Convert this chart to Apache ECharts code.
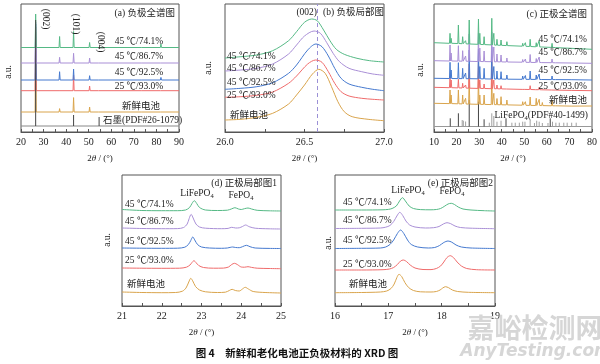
<!DOCTYPE html>
<html><head><meta charset="utf-8">
<script src="https://cdn.jsdelivr.net/npm/echarts/dist/echarts.min.js"></script>
<style>html,body{margin:0;padding:0;background:#fff}#c{width:600px;height:364px}</style>
</head><body><div id="c"></div>
<script>
// ---------- DATA ----------
const seriesLabels = ['45 ℃/74.1%', '45 ℃/86.7%', '45 ℃/92.5%', '25 ℃/93.0%', '新鲜电池'];

// (a) anode full pattern: peak positions and apex values for each curve
const aPeakPos = [26.5, 37.1, 43.3, 50.4, 54.6, 73.5, 82.0];
const aBase = [84.5, 69, 52, 41.3, 20];
const aTopGreen  = [118, 95.5, 100.5, 89.5, 86, 85.5, 88];
const aTopPurple = [110, 74.7, 78.7, 74, 70.5, 69.5, 71];
const aTopBlue   = [108, 60.3, 63, 56.3, 53.5, 53.5, 54.6];
const aTopRed    = [105, 43, 57, 46, 42.3, 41.8, 42.3];
const aTopOrange = [100, 23.4, 34.4, 25, 21.5, 20.7, 21.5];
const aRefPos = [26.5, 43.3, 54.6];
const aRefTop = [112, 17, 15];
const aRefBase = 6;

// (b) anode (002) detail
const bGreen = [[26.0,74],[26.1,75.3],[26.2,77],[26.3,81.3],[26.4,91.3],[26.45,100.3],[26.5,109.7],[26.545,113],[26.58,111.3],[26.62,102],[26.66,91.3],[26.7,82.7],[26.75,77.7],[26.83,73.7],[26.91,71.3],[27.0,70]];
const bPurple = [[26.0,61],[26.1,62],[26.2,63.7],[26.3,68],[26.4,78],[26.45,87],[26.5,96],[26.56,101],[26.6,98.7],[26.64,89.3],[26.68,78.7],[26.72,70.3],[26.78,63.7],[26.86,60.3],[26.93,58],[27.0,56.7]];
const bBlue = [[26.0,42.7],[26.1,43.7],[26.2,45.3],[26.3,49.3],[26.4,58.7],[26.45,67],[26.52,82],[26.572,88],[26.61,85.3],[26.65,76],[26.69,63.7],[26.73,53.7],[26.78,48],[26.86,44.7],[26.93,42.7],[27.0,41.3]];
const bRed = [[26.0,34.7],[26.1,35.3],[26.2,36.7],[26.3,40],[26.4,48.7],[26.45,56],[26.52,68],[26.57,72],[26.61,69.7],[26.65,60.3],[26.69,48.7],[26.73,40.3],[26.78,36],[26.86,33.7],[26.93,32.7],[27.0,32]];
const bOrange = [[26.0,12],[26.1,12.7],[26.2,14.7],[26.3,18.7],[26.4,28],[26.45,37],[26.5,47],[26.55,58],[26.59,62.7],[26.63,58.7],[26.67,45.3],[26.71,30.3],[26.75,20.3],[26.8,15.3],[26.9,12.7],[27.0,11.3]];
const bDashX = 26.58;

// (c) cathode full pattern
const cPeakPos = [17.1,17.6,20.8,22.7,24.0,25.6,29.7,30.3,32.2,35.6,36.5,37.9,39.7,42.3,49.3,50.5,52.6,55.3,56.6,58.0,62.3,64.0,71.0];
const cEndsGreen = [89.3, 82.7], cEndsPurple = [71.3, 68.7], cEndsBlue = [53.7, 52], cEndsRed = [44.7, 41.3], cEndsOrange = [28.7, 26];
const cBaseGreen  = [88.7,88.7,88.5,88.3,88.2,88.0,87.7,87.6,87.4,87.1,87.0,86.8,86.7,86.4,85.8,85.7,85.5,85.2,85.1,85.0,84.6,84.4,83.7];
const cTopGreen   = [98.7,93.7,107,95.3,91.3,112,113,98.7,95.3,113.7,98.7,92.7,92,90.3,88.7,89.3,92.7,89.3,91.3,87,88.7,85.3,84.7];
const cBasePurple = [71.0,71.0,70.9,70.8,70.8,70.7,70.5,70.5,70.4,70.3,70.2,70.2,70.1,70.0,69.8,69.7,69.6,69.5,69.5,69.4,69.3,69.2,69.0];
const cTopPurple  = [87,79,86.3,81.3,76,98,99,84,81,100,85,78,77,74,72.5,73,77.5,73.5,75,71,73,70.5,70];
const cBaseBlue   = [53.5,53.5,53.4,53.4,53.3,53.3,53.2,53.2,53.1,53.0,53.0,53.0,52.9,52.8,52.7,52.7,52.6,52.6,52.5,52.5,52.4,52.4,52.3];
const cTopBlue    = [69.7,62,69.3,63.7,59,82,83,65.5,63.7,85,65.5,61,60.3,57,56,56.5,61,57,58,54,56,53.5,53];
const cBaseRed    = [44.3,44.3,44.1,44.0,43.9,43.8,43.6,43.6,43.5,43.3,43.3,43.2,43.1,43.0,42.6,42.6,42.5,42.3,42.3,42.2,42.0,41.9,41.6];
const cTopRed     = [53.7,52,52.7,48.7,47,68,70,52,48,71,52,47,46.3,45,44.5,44.5,46.3,44,44.7,42.5,43.5,42,41.8];
const cBaseOrange = [28.4,28.4,28.2,28.1,28.0,27.9,27.7,27.7,27.6,27.4,27.4,27.3,27.2,27.1,26.8,26.7,26.6,26.5,26.5,26.4,26.2,26.2,25.9];
const cTopOrange  = [42,37,42,37,33.7,55,56,37,37,58,38.7,33.5,35.3,32,30.3,30.3,35,33.7,32.7,29.5,32,28,27.5];
const cRefBase = 5.5;
const cRefDarkPos = [17.2,20.8,25.6,29.7,32.2,41.9,61.5];
const cRefDarkTop = [13.7,18.7,32,30.3,12.7,13.7,13.7];
const cRefLightPos = [22.5,23.0,24.0,34.5,35.6,36.5,37.9,39.7,44.5,46.0,47.8,49.3,50.3,52.6,54.5,55.5,56.6,58.0,60.5,62.5,64.0,65.5,67.5,69.0,71.0,73.0];
const cRefLightTop = [12,11.3,10.5,9.3,18.7,16,10.3,11.3,9.3,9.3,9.3,10.3,10.3,12,9,11.3,10.3,9,9,10.3,9.3,9.3,9.3,9.3,9.3,9.3];

// (d) cathode detail 1
const dGreen = [[21,96.5],[21.5,95.5],[22,95.3],[22.4,95.3],[22.6,96],[22.7,98.5],[22.76,102.5],[22.82,105.3],[22.88,102.5],[22.95,98.5],[23.1,96],[23.4,95.5],[23.65,95.8],[23.75,97],[23.84,98.3],[23.93,97],[24.0,96.5],[24.08,97.3],[24.17,98],[24.26,97],[24.4,95.7],[24.7,95.2],[25,95]];
const dPurple = [[21,78],[21.5,77.5],[22,77.3],[22.4,77.4],[22.55,78.5],[22.64,82],[22.69,87.5],[22.74,91.7],[22.79,88],[22.86,82],[22.95,79],[23.1,77.8],[23.5,77.3],[23.67,77.6],[23.76,78.7],[23.86,78],[23.95,78.2],[24.03,79.5],[24.11,81],[24.2,79.3],[24.35,77.8],[24.7,77.2],[25,77]];
const dBlue = [[21,58],[21.5,57.8],[22,57.7],[22.4,57.8],[22.58,58.8],[22.67,61.5],[22.73,65.5],[22.78,69],[22.83,66],[22.9,61.5],[23.0,59],[23.2,58],[23.5,57.7],[23.65,58],[23.72,58.6],[23.78,59],[23.86,58.5],[23.95,58.3],[24.03,59.3],[24.13,60.7],[24.22,59.3],[24.35,58],[24.7,57.6],[25,57.5]];
const dRed = [[21,38],[21.5,37.8],[22,37.7],[22.45,37.8],[22.62,38.8],[22.71,41],[22.76,43.5],[22.81,45.3],[22.86,43.5],[22.93,40.5],[23.05,38.5],[23.3,37.8],[23.55,37.9],[23.68,39],[23.76,41.5],[23.83,42.7],[23.9,41.5],[24.0,39],[24.08,38.8],[24.17,39.3],[24.26,38.6],[24.4,37.8],[24.7,37.5],[25,37.3]];
const dOrange = [[21,14],[21.5,13.5],[22,13.3],[22.35,13.5],[22.52,14.8],[22.61,18],[22.68,24],[22.73,27.7],[22.78,25],[22.85,19.5],[22.95,16],[23.1,14.2],[23.4,13.5],[23.6,13.8],[23.7,15.5],[23.77,16.7],[23.85,15.5],[23.95,15],[24.03,17],[24.1,18.7],[24.18,17],[24.3,14.5],[24.6,13.5],[25,13]];

// (e) cathode detail 2
const eGreen = [[16,96],[16.5,96],[16.9,96.2],[17.0,96.6],[17.07,97.5],[17.15,100],[17.21,105],[17.265,108.3],[17.32,105],[17.39,100],[17.47,97.5],[17.6,96.4],[17.8,96.2],[17.9,96.5],[17.98,97.5],[18.06,100],[18.12,102],[18.18,102.7],[18.24,101.5],[18.31,99],[18.4,97],[18.55,96],[18.8,95.3],[19,95]];
const ePurple = [[16,77.5],[16.5,77.7],[16.85,78],[16.95,78.8],[17.03,80.5],[17.1,84.5],[17.16,90],[17.215,93.7],[17.27,90.5],[17.33,85],[17.4,81],[17.5,79],[17.7,78],[17.85,78.3],[17.95,79.5],[18.03,82],[18.1,83.3],[18.17,82.3],[18.25,80],[18.35,78.5],[18.55,77.8],[19,77.3]];
const eBlue = [[16,57.5],[16.5,57.7],[16.85,58],[16.95,59],[17.03,61.5],[17.1,66],[17.17,72.5],[17.23,76],[17.29,72.5],[17.36,66],[17.43,61.5],[17.55,59],[17.75,58],[17.87,58.5],[17.96,60.5],[18.04,63.5],[18.12,65],[18.19,63.8],[18.27,61],[18.37,59],[18.55,58],[19,57.5]];
const eRed = [[16,36],[16.5,36],[16.9,36.3],[17.02,37],[17.1,38.5],[17.17,41.5],[17.23,45],[17.28,46],[17.34,44.5],[17.41,41],[17.5,38],[17.65,36.5],[17.8,36.4],[17.9,37.5],[17.98,40],[18.04,44],[18.1,48.5],[18.16,50.3],[18.22,48.5],[18.29,44],[18.37,40],[18.47,37.5],[18.65,36.3],[19,36]];
const eOrange = [[16,13.3],[16.5,13.5],[16.85,14],[16.97,15],[17.05,17.5],[17.11,22],[17.16,28.5],[17.2,31.7],[17.25,29.5],[17.31,23.5],[17.38,18.5],[17.47,15.5],[17.6,14.2],[17.8,14],[17.9,14.5],[17.97,16],[18.02,18],[18.07,19.3],[18.13,18.3],[18.2,16],[18.3,14.5],[18.5,13.7],[19,13.3]];

// ---------- STYLE / LAYOUT ----------
const COLORS = ['#55b985', '#a98fd6', '#4579cf', '#ef6b6b', '#d9a44c'];
const SERIF = '"Liberation Serif","Noto Sans CJK SC",serif';
const FRAME = '#555';

// build a polyline from read peak positions/apices (triangular spikes on the read local base)
function spikeLine(pos, base, top, w, xL, xR, ends) {
  const pts = [[xL, ends[0]]];
  pos.forEach((p, i) => {
    const b = Array.isArray(base) ? base[i] : base;
    pts.push([p - w, b], [p, top[i]], [p + w, b]);
  });
  pts.push([xR, ends[1]]);
  return pts;
}

const grids = [
  {left: 21, top: 4, width: 158, height: 128},
  {left: 225, top: 4, width: 159, height: 128},
  {left: 434, top: 4, width: 158, height: 128},
  {left: 122, top: 175, width: 159, height: 131},
  {left: 335, top: 175, width: 160, height: 131}
].map(g => Object.assign(g, {show: true, borderColor: FRAME, borderWidth: 1, backgroundColor: 'transparent'}));

const xRanges = [[20, 90, 10], [26, 27, 0.5], [10, 80, 10], [21, 25, 1], [16, 19, 1]];
const xAxes = xRanges.map((r, i) => ({
  type: 'value', gridIndex: i, min: r[0], max: r[1], interval: r[2],
  name: '2{i|θ} / (°)', nameLocation: 'middle', nameGap: 22,
  nameTextStyle: {fontFamily: SERIF, fontSize: 9, color: '#222', rich: {i: {fontStyle: 'italic', fontFamily: SERIF, fontSize: 9, color: '#222'}}},
  axisLine: {show: true, lineStyle: {color: FRAME, width: 1}},
  axisTick: {show: true, inside: true, length: 3, lineStyle: {color: FRAME}},
  minorTick: {show: true, splitNumber: 2, length: 3, lineStyle: {color: FRAME}},
  splitLine: {show: false},
  axisLabel: {fontFamily: SERIF, fontSize: 10, color: '#222', margin: 5,
    formatter: v => (i === 1 ? v.toFixed(1) : String(v))}
}));
const yMax = [128, 128, 128, 131, 131];
const yAxes = yMax.map((m, i) => ({type: 'value', gridIndex: i, min: 0, max: m, show: false}));

const series = [];
function addLine(idx, data, color, z, extra) {
  series.push(Object.assign({type: 'line', xAxisIndex: idx, yAxisIndex: idx, data: data, showSymbol: false,
    symbol: 'none', lineStyle: {color: color, width: 1}, z: z, animation: false}, extra || {}));
}
const SMOOTH = {smooth: 0.3};
function addSticks(idx, pos, base, top, color, z) {
  series.push({type: 'custom', xAxisIndex: idx, yAxisIndex: idx, z: z, animation: false,
    data: pos.map((p, i) => [p, base, top[i]]),
    encode: {x: 0, y: [1, 2]},
    renderItem: (params, api) => {
      const p0 = api.coord([api.value(0), api.value(1)]);
      const p1 = api.coord([api.value(0), api.value(2)]);
      return {type: 'line', shape: {x1: p0[0], y1: p0[1], x2: p1[0], y2: p1[1]}, style: {stroke: color, lineWidth: 1}};
    }});
}

// panel a
const aTops = [aTopGreen, aTopPurple, aTopBlue, aTopRed, aTopOrange];
aTops.forEach((t, k) => addLine(0, spikeLine(aPeakPos, aBase[k], t, 0.25, 20, 90, [aBase[k], aBase[k]]), COLORS[k], 10 - k));
addLine(0, [[20, aRefBase], [90, aRefBase]], '#888', 3);
addSticks(0, aRefPos, aRefBase, aRefTop, '#444', 12);

// panel b
[bGreen, bPurple, bBlue, bRed, bOrange].forEach((d, k) => addLine(1, d, COLORS[k], 10 - k,
  Object.assign({}, SMOOTH, k === 4 ? {markLine: {silent: true, symbol: 'none', label: {show: false}, lineStyle: {color: '#9b90d6', type: [4, 3], width: 1}, data: [{xAxis: bDashX}]}} : {})));

// panel c
const cSets = [[cBaseGreen, cTopGreen, cEndsGreen], [cBasePurple, cTopPurple, cEndsPurple], [cBaseBlue, cTopBlue, cEndsBlue], [cBaseRed, cTopRed, cEndsRed], [cBaseOrange, cTopOrange, cEndsOrange]];
cSets.forEach((s, k) => addLine(2, spikeLine(cPeakPos, s[0], s[1], 0.25, 10, 80, s[2]), COLORS[k], 10 - k));
addLine(2, [[10, cRefBase], [80, cRefBase]], '#999', 3);
addSticks(2, cRefLightPos, cRefBase, cRefLightTop, '#a0a0a0', 4);
addSticks(2, cRefDarkPos, cRefBase, cRefDarkTop, '#444', 5);

// panel d, e
[dGreen, dPurple, dBlue, dRed, dOrange].forEach((d, k) => addLine(3, d, COLORS[k], 10 - k, SMOOTH));
[eGreen, ePurple, eBlue, eRed, eOrange].forEach((d, k) => addLine(4, d, COLORS[k], 10 - k, SMOOTH));

// ---------- TEXT ----------
const g = [];
function txt(text, x, y, align, opts) {
  opts = opts || {};
  g.push({type: 'text', x: x, y: y, rotation: opts.rot || 0, z: 100,
    style: {text: text, fill: opts.fill || '#222', font: (opts.weight || 'normal') + ' ' + (opts.size || 9.5) + 'px ' + (opts.family || SERIF),
      align: align, verticalAlign: 'middle',
      rich: {s: {fontSize: 6.5, fontFamily: SERIF, fill: '#222', padding: [6, 0, 0, 0]}, n: {fontSize: opts.size || 9.5, fontFamily: SERIF, fill: '#222'}}}});
}
// panel a
txt('(a) 负极全谱图', 175, 13, 'right');
[41.7, 56, 72.7, 86.7].forEach((y, k) => txt(seriesLabels[k], 139, y, 'center'));
txt(seriesLabels[4], 141, 106, 'center');
txt('石墨(PDF#26-1079)', 103, 120, 'left');
txt('(002)', 45, 19, 'center', {rot: -Math.PI / 2});
txt('(101)', 75, 24, 'center', {rot: -Math.PI / 2});
txt('(004)', 100, 42, 'center', {rot: -Math.PI / 2});
txt('a.u.', 8, 72, 'center', {rot: Math.PI / 2});
// panel b
txt('(002)', 317, 12, 'right');
txt('(b) 负极局部图', 323, 12, 'left');
[56, 68, 82, 95].forEach((y, k) => txt(seriesLabels[k], 227, y, 'left'));
txt(seriesLabels[4], 230, 115, 'left');
txt('a.u.', 208, 68, 'center', {rot: Math.PI / 2});
// panel c
txt('(c) 正极全谱图', 587, 14, 'right');
[39, 52.7, 70.7, 86].forEach((y, k) => txt(seriesLabels[k], 587, y, 'right'));
txt(seriesLabels[4], 587, 100, 'right');
txt('{n|LiFePO}{s|4}{n|(PDF#40-1499)}', 588, 115, 'right');
txt('a.u.', 420, 70, 'center', {rot: Math.PI / 2});
// panel d
txt('(d) 正极局部图1', 277, 183, 'right');
[204.3, 221.7, 241.7, 260].forEach((y, k) => txt(seriesLabels[k], 125, y, 'left'));
txt(seriesLabels[4], 127, 284.3, 'left');
txt('{n|LiFePO}{s|4}', 197, 193, 'center');
txt('{n|FePO}{s|4}', 241, 195, 'center');
txt('a.u.', 107, 240, 'center', {rot: Math.PI / 2});
// panel e
txt('(e) 正极局部图2', 493, 183, 'right');
[202.7, 220, 240.7, 264.3].forEach((y, k) => txt(seriesLabels[k], 343, y, 'left'));
txt(seriesLabels[4], 349, 284.3, 'left');
txt('{n|LiFePO}{s|4}', 408, 190, 'center');
txt('{n|FePO}{s|4}', 452, 191, 'center');
txt('a.u.', 328, 243, 'center', {rot: Math.PI / 2});
// caption + watermark
txt('图 4　新鲜和老化电池正负极材料的 XRD 图', 297, 353, 'center', {family: '"Noto Sans CJK SC",sans-serif', weight: 'bold', size: 10.5, fill: '#111'});
txt('嘉峪检测网', 535, 328, 'center', {family: '"Noto Sans CJK SC",sans-serif', weight: 'bold', size: 27, fill: '#d6d6d6'});
g.push({type: 'text', x: 536, y: 352, z: 100, style: {text: 'AnyTesting.com', fill: '#d6d6d6', font: 'italic bold 17px "DejaVu Sans",sans-serif', align: 'center', verticalAlign: 'middle'}});

const chart = echarts.init(document.getElementById('c'), null, {renderer: 'canvas'});
chart.setOption({animation: false, grid: grids, xAxis: xAxes, yAxis: yAxes, series: series, graphic: g});
</script></body></html>
